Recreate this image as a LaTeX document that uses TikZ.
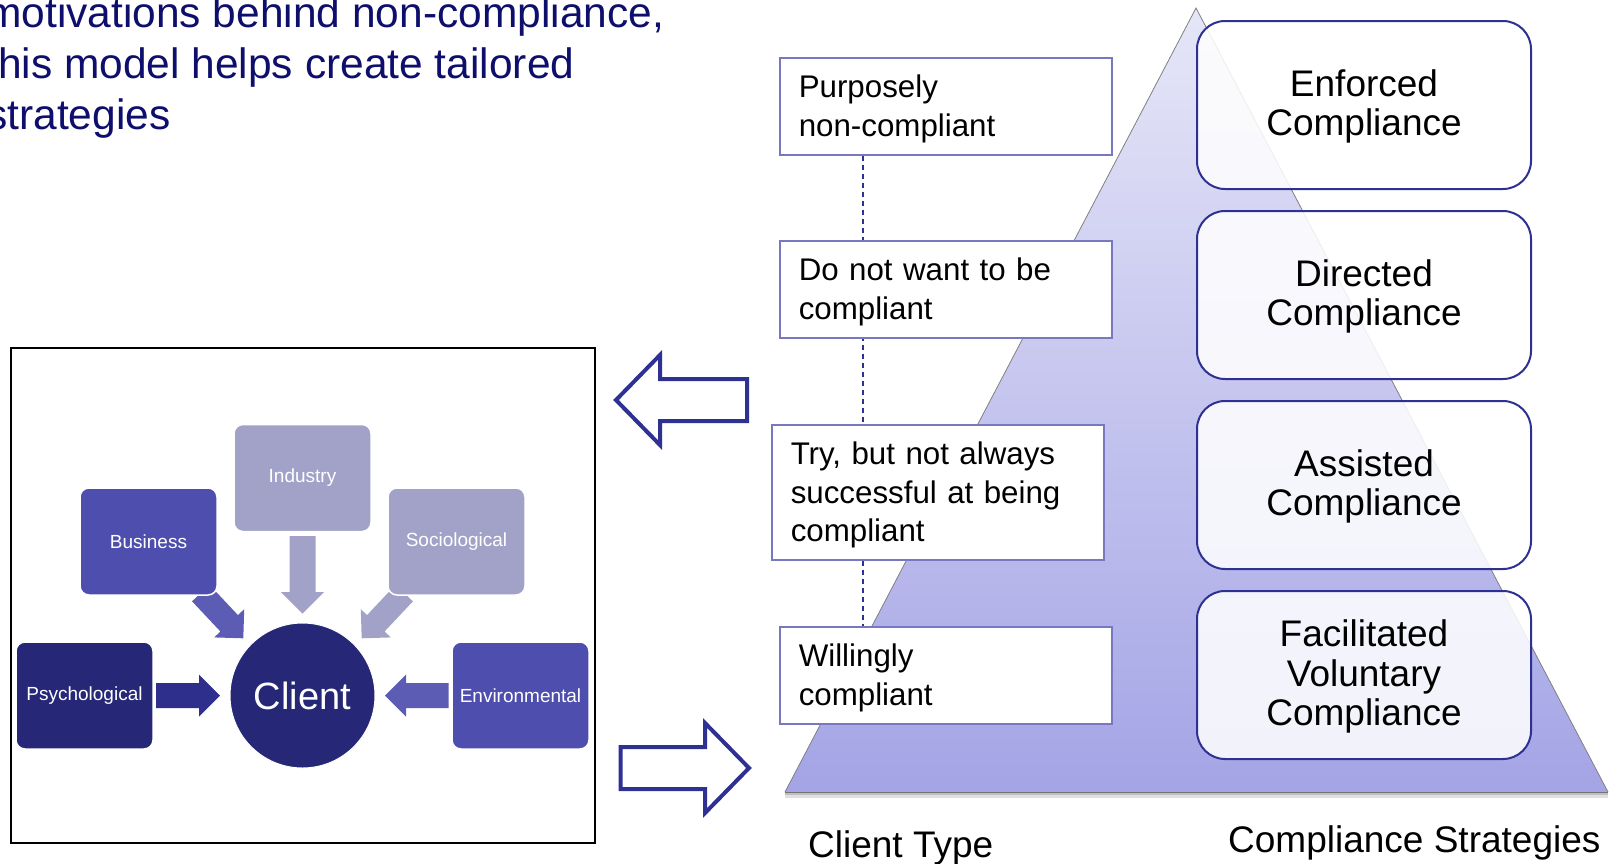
\documentclass[tikz,border=0pt]{standalone}
\usepackage{fontspec}
\setmainfont{Liberation Sans}
\usetikzlibrary{calc}
\definecolor{titleblue}{RGB}{14,14,108}
\definecolor{navy}{RGB}{38,39,118}
\definecolor{midblue}{RGB}{78,78,174}
\definecolor{lightpurple}{RGB}{162,162,200}
\definecolor{arrowdark}{RGB}{46,46,140}
\definecolor{arrowmid}{RGB}{92,92,180}
\definecolor{outlineblue}{RGB}{46,49,146}
\definecolor{ctborder}{RGB}{120,120,192}
\definecolor{tritop}{RGB}{230,230,248}
\definecolor{tribot}{RGB}{164,164,230}
\newcommand\blockarrow[6]{%
  \path (#2) coordinate (ba-s) (#3) coordinate (ba-e);
  \path ($(ba-e)!#6!(ba-s)$) coordinate (ba-h);
  \path[#1] ($(ba-s)!#4!90:(ba-e)$) -- ($(ba-h)!#4!-90:(ba-s)$) -- ($(ba-h)!#5!-90:(ba-s)$) -- (ba-e) -- ($(ba-h)!#5!90:(ba-s)$) -- ($(ba-h)!#4!90:(ba-s)$) -- ($(ba-s)!#4!-90:(ba-e)$) -- cycle;
}
\newcommand\ctup{\rule{0pt}{28pt}}
\newcommand\csup{\rule{0pt}{30pt}}
\tikzset{
  titletext/.style={anchor=base west, inner sep=0pt, text=titleblue, font=\fontsize{42.5}{50}\selectfont},
  factor/.style={rounded corners=9pt, draw=white, line width=1.5pt, text=white, minimum width=137pt, minimum height=107pt, inner sep=0pt, font=\fontsize{19}{22}\selectfont},
  ctbox/.style={draw=ctborder, line width=1.5pt, fill=white, anchor=north west, align=left, text width=294pt, inner xsep=19pt, inner ysep=0pt, minimum height=97pt, font=\fontsize{31.3}{38.5}\selectfont},
  cbox/.style={draw=outlineblue, line width=2pt, fill=white, fill opacity=0.86, text opacity=1, rounded corners=28pt, anchor=north west, align=center, minimum width=334pt, minimum height=168pt, inner sep=0pt, font=\fontsize{37}{39.3}\selectfont},
  bottomlabel/.style={anchor=base west, inner sep=0pt, font=\fontsize{37}{40}\selectfont},
  bigarrow/.style={draw=outlineblue, line width=4pt, miter limit=10},
}
\begin{document}
\begin{tikzpicture}[x=1pt, y=-1pt]
\useasboundingbox (0,0) rectangle (1620,863);
\clip (0,0) rectangle (1620,863);

% title text
\node[titletext] (t1) at (-14,27) {motivations behind non-compliance,};
\node[titletext] (t2) at (-14,78) {this model helps create tailored};
\node[titletext] (t3) at (-14,129) {strategies};

% left frame
\draw[black, line width=2pt] (10.5,348) rectangle (595,843);

% factor arrows (drawn under the boxes)
\blockarrow{fill=arrowdark}{156,695.5}{220,695.5}{12.5pt}{21pt}{21pt}
\blockarrow{fill=arrowmid}{448.5,695.5}{385,695.5}{12.5pt}{21pt}{21pt}
\blockarrow{fill=lightpurple}{302.5,536}{302.5,613.5}{13pt}{21.5pt}{21.5pt}
\blockarrow{fill=arrowmid}{200.8,593.1}{243.3,638.3}{12pt}{20.6pt}{20.6pt}
\blockarrow{fill=lightpurple}{404.2,593.1}{361.7,638.3}{12pt}{20.6pt}{20.6pt}

% factor boxes
\node[factor, fill=lightpurple] (industry) at (302.5,478) {Industry};
\node[factor, fill=midblue] (business) at (148.5,541.5) {Business};
\node[factor, fill=lightpurple] (socio) at (456.5,541.5) {Sociological};
\node[factor, fill=navy] (psych) at (84.5,695.5) {Psychological};
\node[factor, fill=midblue] (env) at (520.5,695.5) {Environmental};
\node[circle, fill=navy, draw=white, line width=1pt, minimum size=145pt, inner sep=0pt, text=white, font=\fontsize{38}{42}\selectfont] (client) at (302.5,695.5) {Client};

% big outline arrows
\blockarrow{bigarrow}{747,400}{616,400}{21pt}{45pt}{44pt}
\blockarrow{bigarrow}{620.5,768}{749,768}{21pt}{45pt}{44pt}

% pyramid
\coordinate (apex) at (1196,8);
\coordinate (bl) at (785,792);
\coordinate (br) at (1608,792);
\draw[black, opacity=0.12, line width=3pt] ($(bl)+(0,4)$) -- ($(br)+(0,4)$);
\draw[black, opacity=0.25, line width=1.5pt] ($(bl)+(0,2)$) -- ($(br)+(0,2)$);
\shade[top color=tritop, bottom color=tribot] (apex) -- (br) -- (bl) -- cycle;
\draw[gray, line width=0.8pt] (bl) -- (apex) -- (br);
\draw[black!55, line width=1pt] (bl) -- (br);

% client type column
\coordinate (dashx) at (863,0);
\node[ctbox] (ct1) at (779,57) {\ctup Purposely\\non-compliant};
\node[ctbox] (ct4) at (779,626) {\ctup Willingly\\compliant};
\draw[outlineblue, line width=1.3pt, dash pattern=on 5pt off 4pt] (ct1.south -| dashx) -- (ct4.north -| dashx);
\node[ctbox] (ct2) at (779,240) {\ctup Do not want to be\\compliant};
\node[ctbox, minimum height=135pt] (ct3) at (771,424) {\ctup Try, but not always\\successful at being\\compliant};

% compliance strategies
\node[cbox] (cs1) at (1196,20) {\csup Enforced\\Compliance};
\node[cbox] (cs2) at (1196,210) {\csup Directed\\Compliance};
\node[cbox] (cs3) at (1196,400) {\csup Assisted\\Compliance};
\node[cbox] (cs4) at (1196,590) {\csup Facilitated\\Voluntary\\Compliance};

% bottom labels
\node[bottomlabel] (lblct) at (808,857) {Client Type};
\node[bottomlabel] (lblcs) at (1228,852) {Compliance Strategies};
\end{tikzpicture}
\end{document}
